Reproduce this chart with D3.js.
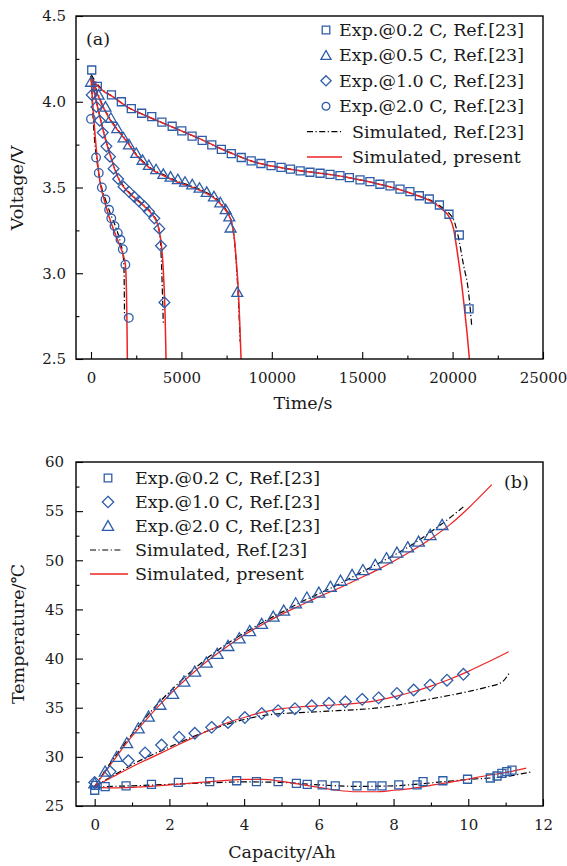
<!DOCTYPE html>
<html lang="en">
<head>
  <meta charset="UTF-8">
  <title>Discharge voltage and temperature</title>
  <style>
    body { margin: 0; background: #fff; }
    svg { display: block; }
    text { font-family: 'DejaVu Serif', serif; fill: #1a1a1a; }
    .tick text { font-size: 15px; font-family: 'DejaVu Serif', serif; }
    .tick line { stroke: #000; stroke-width: 1.1px; }
    .frame { fill: none; stroke: #000; stroke-width: 1.4px; }
    .exp { fill: none; stroke: #2d5da8; stroke-width: 1.3px; }
    .sim-ref { fill: none; stroke: #000; stroke-width: 1.2px; stroke-dasharray: 6,2.5,1.2,2.5; }
    .sim-now { fill: none; stroke: #ee2222; stroke-width: 1.5px; }
    .thin .sim-now { stroke-width: 1.2px; }
    .label { font-size: 17.5px; }
  </style>
</head>
<body>
  <svg width="567" height="866"></svg>

  <script src="https://d3js.org/d3.v7.min.js"></script>
  <script>
    // ---- (a) voltage vs time, [t (s), V] ----
    const exp02V = [[40,4.185],[350,4.09],[1130,4.04],[1680,4.0],[2230,3.96],[2800,3.933],[3360,3.913],[3920,3.881],[4490,3.857],[5020,3.83],[5590,3.80],[6150,3.775],[6680,3.748],[7210,3.722],[7760,3.698],[8310,3.675],[8860,3.655],[9400,3.64],[9960,3.627],[10510,3.617],[11030,3.607],[11570,3.597],[12110,3.589],[12670,3.583],[13220,3.577],[13770,3.569],[14290,3.557],[14880,3.544],[15430,3.534],[15980,3.519],[16540,3.509],[17090,3.491],[17640,3.476],[18160,3.452],[18710,3.433],[19270,3.398],[19800,3.344],[20370,3.223],[20910,2.792]];
    const exp05V = [[0,4.115],[420,4.04],[800,3.97],[1100,3.905],[1450,3.845],[1800,3.79],[2100,3.75],[2500,3.70],[2850,3.66],[3200,3.63],[3600,3.605],[4000,3.578],[4400,3.562],[4800,3.547],[5200,3.532],[5600,3.517],[6000,3.497],[6400,3.473],[6800,3.447],[7150,3.412],[7450,3.372],[7650,3.33],[7720,3.265],[8090,2.89]];
    const exp10V = [[40,4.04],[300,3.97],[480,3.89],[650,3.82],[850,3.74],[1050,3.68],[1250,3.61],[1500,3.55],[1800,3.505],[2100,3.475],[2400,3.445],[2650,3.42],[2950,3.39],[3200,3.36],[3500,3.32],[3780,3.26],[3870,3.16],[4060,2.83]];
    const exp20V = [[0,3.90],[280,3.675],[430,3.585],[600,3.50],[800,3.43],[1000,3.37],[1120,3.32],[1300,3.275],[1480,3.235],[1630,3.195],[1760,3.14],[1900,3.05],[2090,2.74]];

    const refV = [
      [[0,4.16],[300,4.11],[700,4.065],[1200,4.03],[2000,3.97],[3000,3.92],[4000,3.875],[5000,3.83],[6000,3.785],[7000,3.735],[8000,3.69],[9000,3.65],[10000,3.625],[11000,3.607],[12000,3.592],[13000,3.579],[14000,3.563],[15000,3.542],[16000,3.518],[17000,3.49],[18000,3.455],[18800,3.425],[19400,3.385],[19800,3.35],[20100,3.3],[20300,3.22],[20600,3.05],[20870,2.9],[21060,2.69]],
      [[0,4.15],[300,4.07],[600,3.99],[1000,3.91],[1500,3.835],[2000,3.77],[2500,3.695],[3000,3.64],[3500,3.6],[4000,3.575],[4700,3.54],[5500,3.51],[6200,3.48],[6800,3.445],[7200,3.405],[7500,3.365],[7700,3.325],[7850,3.26],[7950,3.17],[8050,3.03],[8150,2.85],[8250,2.6]],
      [[0,4.15],[300,4.0],[550,3.89],[800,3.785],[1000,3.715],[1300,3.615],[1600,3.54],[2000,3.485],[2500,3.435],[3000,3.39],[3400,3.345],[3700,3.28],[3830,3.2],[3900,3.05],[3960,2.85],[4000,2.7]],
      [[0,4.15],[80,3.98],[180,3.8],[320,3.66],[500,3.54],[800,3.43],[1100,3.34],[1400,3.26],[1650,3.17],[1780,3.1],[1830,3.0],[1845,2.85],[1855,2.74]]
    ];
    const nowV = [
      [[0,4.145],[300,4.10],[700,4.06],[1200,4.03],[2000,3.97],[3000,3.92],[4000,3.875],[5000,3.83],[6000,3.785],[7000,3.735],[8000,3.69],[9000,3.65],[10000,3.625],[11000,3.607],[12000,3.592],[13000,3.579],[14000,3.563],[15000,3.542],[16000,3.518],[17000,3.49],[18000,3.455],[18800,3.42],[19400,3.375],[19800,3.33],[20050,3.26],[20250,3.13],[20450,2.98],[20650,2.8],[20800,2.65],[20930,2.5]],
      [[0,4.145],[300,4.06],[600,3.985],[1000,3.905],[1500,3.83],[2000,3.765],[2500,3.69],[3000,3.635],[3500,3.595],[4000,3.57],[4700,3.535],[5500,3.505],[6200,3.475],[6800,3.44],[7200,3.40],[7500,3.36],[7700,3.32],[7850,3.26],[7950,3.18],[8050,3.05],[8150,2.9],[8230,2.7],[8300,2.5]],
      [[0,4.145],[300,4.0],[550,3.885],[800,3.78],[1000,3.71],[1300,3.61],[1600,3.535],[2000,3.48],[2500,3.43],[3000,3.385],[3400,3.34],[3700,3.28],[3850,3.2],[3950,3.1],[4030,2.95],[4100,2.75],[4150,2.5]],
      [[0,4.145],[100,3.98],[200,3.84],[350,3.66],[500,3.53],[700,3.44],[1000,3.33],[1300,3.24],[1600,3.16],[1800,3.1],[1900,3.05],[1960,2.9],[1990,2.7],[2010,2.5]]
    ];

    // ---- (b) temperature vs capacity, [Ah, degC] ----
    const exp02T = [[0,26.6],[0.02,27.1],[0.28,26.97],[0.84,27.04],[1.52,27.2],[2.24,27.41],[3.08,27.47],[3.8,27.57],[4.33,27.47],[4.91,27.47],[5.4,27.31],[5.69,27.2],[6.09,27.14],[6.44,27.04],[7.02,27.04],[7.42,27.04],[7.69,27.04],[8.14,27.14],[8.63,27.14],[8.79,27.47],[9.32,27.57],[9.98,27.72],[10.59,27.85],[10.77,28.05],[10.9,28.32],[11.03,28.5],[11.17,28.66]];
    const exp10T = [[0,27.4],[0.41,28.5],[0.9,29.6],[1.35,30.4],[1.79,31.2],[2.26,32.0],[2.68,32.4],[3.13,33.0],[3.57,33.5],[4.02,34.0],[4.47,34.4],[4.91,34.7],[5.36,34.9],[5.81,35.2],[6.27,35.45],[6.71,35.6],[7.16,35.85],[7.6,36.0],[8.09,36.45],[8.54,36.8],[8.98,37.3],[9.43,37.8],[9.87,38.4]];
    const exp20T = [[0,27.3],[0.28,28.5],[0.59,30.0],[0.86,31.4],[1.17,32.9],[1.44,34.1],[1.75,35.3],[2.09,36.4],[2.39,37.65],[2.68,38.67],[2.99,39.58],[3.28,40.47],[3.57,41.28],[3.87,42.06],[4.15,42.8],[4.47,43.52],[4.78,44.26],[5.06,44.87],[5.38,45.62],[5.68,46.2],[6.0,46.7],[6.31,47.3],[6.58,47.92],[6.89,48.5],[7.18,49.0],[7.51,49.52],[7.81,50.2],[8.09,50.77],[8.38,51.32],[8.67,51.89],[8.98,52.57],[9.3,53.59]];

    const refT = [
      [[0,26.9],[0.5,27.0],[1,27.05],[2,27.2],[3,27.35],[4,27.45],[5,27.4],[6,27.15],[7,27.0],[8,27.05],[9,27.35],[10,27.7],[11,28.0],[11.66,28.45]],
      [[0,27.0],[0.5,28.1],[1,29.2],[2,31.0],[3,32.6],[4,33.8],[4.5,34.2],[5,34.4],[5.5,34.5],[6,34.6],[6.5,34.7],[7,34.8],[7.5,34.95],[8,35.2],[9,35.9],[10,36.65],[10.5,37.1],[10.9,37.6],[11.12,38.66]],
      [[0,27.0],[0.5,29.8],[1,32.3],[1.5,34.6],[2,36.6],[2.5,38.4],[3,40.0],[3.5,41.4],[4,42.6],[4.5,43.7],[5,44.7],[5.5,45.7],[6,46.6],[6.5,47.5],[7,48.5],[7.5,49.5],[8,50.5],[8.5,51.6],[9,52.9],[9.5,54.3],[9.92,55.6]]
    ];
    const nowT = [
      [[0,26.9],[0.5,26.85],[1,26.9],[1.5,27.0],[2,27.15],[2.5,27.3],[3,27.45],[3.5,27.6],[4,27.7],[4.5,27.7],[5,27.5],[5.5,27.2],[6,26.9],[6.5,26.6],[7,26.45],[7.5,26.45],[8,26.6],[8.5,26.8],[9,27.1],[9.5,27.4],[10,27.75],[10.5,28.1],[11,28.4],[11.55,28.85]],
      [[0,27.0],[0.5,28.0],[1,29.0],[1.5,29.9],[2,30.8],[2.5,31.7],[3,32.6],[3.5,33.4],[4,34.0],[4.5,34.55],[5,34.9],[5.5,35.1],[6,35.2],[6.5,35.3],[7,35.45],[7.5,35.7],[8,36.1],[8.5,36.6],[9,37.2],[9.5,37.9],[10,38.7],[10.5,39.6],[11.08,40.7]],
      [[0,27.0],[0.5,29.6],[1,32.1],[1.5,34.3],[2,36.3],[2.5,38.1],[3,39.7],[3.5,41.1],[4,42.4],[4.5,43.5],[5,44.5],[5.5,45.4],[6,46.3],[6.5,47.1],[7,48.0],[7.5,48.9],[8,49.9],[8.5,51.0],[9,52.2],[9.5,53.6],[10,55.3],[10.63,57.7]]
    ];

    const legendA = ["Exp.@0.2 C, Ref.[23]", "Exp.@0.5 C, Ref.[23]", "Exp.@1.0 C, Ref.[23]", "Exp.@2.0 C, Ref.[23]", "Simulated, Ref.[23]", "Simulated, present"];
    const legendB = ["Exp.@0.2 C, Ref.[23]", "Exp.@1.0 C, Ref.[23]", "Exp.@2.0 C, Ref.[23]", "Simulated, Ref.[23]", "Simulated, present"];

    const svg = d3.select("svg");

    const xa = d3.scaleLinear().domain([-830, 25000]).range([76, 543]);
    const ya = d3.scaleLinear().domain([2.5, 4.5]).range([359, 16]);
    const xb = d3.scaleLinear().domain([-0.5, 12]).range([76, 543]);
    const yb = d3.scaleLinear().domain([25, 60]).range([806, 462]);

    // marker shapes, s ~ half size
    function markerPath(shape, s) {
      if (shape === "square") return `M${-s},${-s}H${s}V${s}H${-s}Z`;
      if (shape === "diamond") return `M0,${-s * 1.35}L${s * 1.35},0L0,${s * 1.35}L${-s * 1.35},0Z`;
      if (shape === "triangle") return `M0,${-s * 1.25}L${s * 1.3},${s}L${-s * 1.3},${s}Z`;
      return `M${s},0A${s},${s} 0 1,1 ${-s},0A${s},${s} 0 1,1 ${s},0Z`;
    }

    function drawAxes(x, y, xMajor, xMinor, yMajor, yMinor, yFmt, yPad) {
      const [x0, x1] = x.range();
      const [y0, y1] = y.range();
      const g = svg.append("g");

      g.append("g").attr("transform", `translate(0,${y0})`)
        .call(d3.axisBottom(x).tickValues(xMinor).tickSize(-3.5).tickFormat(""))
        .call(a => a.select(".domain").remove());
      g.append("g").attr("transform", `translate(0,${y0})`)
        .call(d3.axisBottom(x).tickValues(xMajor).tickSize(-7).tickPadding(13).tickFormat(d3.format("d")))
        .call(a => a.select(".domain").remove());
      g.append("g").attr("transform", `translate(${x0},0)`)
        .call(d3.axisLeft(y).tickValues(yMinor).tickSize(-3.5).tickFormat(""))
        .call(a => a.select(".domain").remove());
      g.append("g").attr("transform", `translate(${x0},0)`)
        .call(d3.axisLeft(y).tickValues(yMajor).tickSize(-7).tickPadding(yPad).tickFormat(yFmt))
        .call(a => a.select(".domain").remove());

      g.append("rect").attr("class", "frame")
        .attr("x", x0).attr("y", y1)
        .attr("width", x1 - x0).attr("height", y0 - y1);
    }

    function drawSeries(id, x, y, refs, nows, exps, cls) {
      const [x0, x1] = x.range();
      const [y0, y1] = y.range();
      svg.append("clipPath").attr("id", id)
        .append("rect").attr("x", x0).attr("y", y1).attr("width", x1 - x0).attr("height", y0 - y1);

      const line = d3.line().x(d => x(d[0])).y(d => y(d[1])).curve(d3.curveMonotoneX);
      const g = svg.append("g").attr("class", cls).attr("clip-path", `url(#${id})`);

      g.selectAll(".sim-ref").data(refs).enter().append("path")
        .attr("class", "sim-ref").attr("d", line);
      g.selectAll(".sim-now").data(nows).enter().append("path")
        .attr("class", "sim-now").attr("d", line);

      exps.forEach(e => {
        g.append("g").selectAll("path").data(e.pts).enter().append("path")
          .attr("class", "exp")
          .attr("transform", d => `translate(${x(d[0])},${y(d[1])})`)
          .attr("d", markerPath(e.shape, e.s));
      });
    }

    function drawLegend(labels, shapes, rowY, step, markX, markTextX, lineX0, lineX1, lineTextX) {
      const g = svg.append("g");
      labels.forEach((lab, i) => {
        const yy = rowY + i * step;
        if (i < shapes.length) {
          g.append("path").attr("class", "exp")
            .attr("transform", `translate(${markX},${yy})`)
            .attr("d", markerPath(shapes[i].shape, shapes[i].s));
          g.append("text").attr("class", "label").attr("x", markTextX).attr("y", yy + 6).text(lab);
        } else {
          const isRef = i === shapes.length;
          g.append("line").attr("class", isRef ? "sim-ref" : "sim-now")
            .attr("x1", lineX0).attr("x2", isRef ? lineX1[0] : lineX1[1])
            .attr("y1", yy).attr("y2", yy);
          g.append("text").attr("class", "label").attr("x", lineTextX).attr("y", yy + 6).text(lab);
        }
      });
    }

    // ---- panel (a) ----
    drawSeries("clipA", xa, ya, refV, nowV, [
      { pts: exp02V, shape: "square", s: 4 },
      { pts: exp05V, shape: "triangle", s: 4.2 },
      { pts: exp10V, shape: "diamond", s: 4 },
      { pts: exp20V, shape: "circle", s: 4.3 }
    ], "panel-a");
    drawAxes(xa, ya, d3.range(0, 25001, 5000), d3.range(2500, 25000, 5000),
      d3.range(2.5, 4.51, 0.5), d3.range(2.75, 4.5, 0.5), d3.format(".1f"), 10);
    drawLegend(legendA, [
      { shape: "square", s: 3.8 }, { shape: "triangle", s: 3.9 },
      { shape: "diamond", s: 3.8 }, { shape: "circle", s: 3.9 }
    ], 30, 25.4, 326, 339, 307, [342, 342], 352);
    svg.append("text").attr("class", "label").attr("x", 86).attr("y", 45).text("(a)");

    svg.append("text").attr("class", "label")
      .attr("text-anchor", "middle").attr("x", 303).attr("y", 409).text("Time/s");
    svg.append("text").attr("class", "label")
      .attr("text-anchor", "middle")
      .attr("transform", "translate(23,188) rotate(-90)").text("Voltage/V");

    // ---- panel (b) ----
    drawSeries("clipB", xb, yb, refT, nowT, [
      { pts: exp02T, shape: "square", s: 4 },
      { pts: exp10T, shape: "diamond", s: 4.3 },
      { pts: exp20T, shape: "triangle", s: 4.5 }
    ], "thin");
    drawAxes(xb, yb, d3.range(0, 12.1, 2), d3.range(1, 12, 2),
      d3.range(25, 60.1, 5), d3.range(27.5, 60, 5), d3.format("d"), 12);
    drawLegend(legendB, [
      { shape: "square", s: 3.8 }, { shape: "diamond", s: 4.2 }, { shape: "triangle", s: 4.3 }
    ], 478, 24, 108, 135, 90, [123, 128], 135);
    svg.append("text").attr("class", "label").attr("x", 504).attr("y", 488).text("(b)");

    svg.append("text").attr("class", "label")
      .attr("text-anchor", "middle").attr("x", 282).attr("y", 858).text("Capacity/Ah");
    svg.append("text").attr("class", "label")
      .attr("text-anchor", "middle")
      .attr("transform", "translate(24,634) rotate(-90)").text("Temperature/℃");
  </script>
</body>
</html>
